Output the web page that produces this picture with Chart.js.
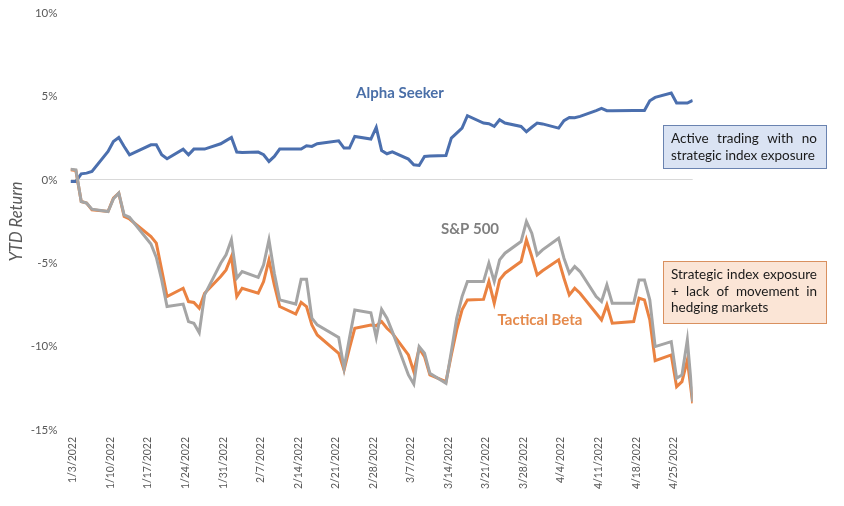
<!DOCTYPE html>
<html>
<head>
<meta charset="utf-8">
<script src="https://cdn.jsdelivr.net/npm/chart.js@4.4.1/dist/chart.umd.min.js"></script>
<style>
  html, body { margin: 0; padding: 0; background: #ffffff; }
  #wrap { width: 844px; height: 506px; position: relative; }
</style>
</head>
<body>
<div id="wrap"><canvas id="c"></canvas></div>
<script>
// ---------- DATA ----------
const tradingDates = [
  "1/3","1/4","1/5","1/6","1/7","1/10","1/11","1/12","1/13","1/14","1/18","1/19","1/20","1/21","1/24","1/25","1/26","1/27","1/28","1/31",
  "2/1","2/2","2/3","2/4","2/7","2/8","2/9","2/10","2/11","2/14","2/15","2/16","2/17","2/18","2/22","2/23","2/24","2/25","2/28",
  "3/1","3/2","3/3","3/4","3/7","3/8","3/9","3/10","3/11","3/14","3/15","3/16","3/17","3/18","3/21","3/22","3/23","3/24","3/25","3/28","3/29","3/30","3/31",
  "4/1","4/4","4/5","4/6","4/7","4/8","4/11","4/12","4/13","4/14","4/18","4/19","4/20","4/21","4/22","4/25","4/26","4/27","4/28","4/29"
];
const alphaSeeker = [
  -0.1,-0.1,0.36,0.4,0.5,1.7,2.3,2.54,2.0,1.5,2.1,2.1,1.5,1.26,1.84,1.5,1.84,1.84,1.84,2.16,
  2.35,2.54,1.66,1.63,1.66,1.5,1.1,1.4,1.84,1.84,1.84,2.04,2.0,2.16,2.34,1.9,1.9,2.6,2.44,
  3.14,1.76,1.56,1.68,1.24,0.9,0.86,1.4,1.42,1.46,2.5,2.8,3.1,3.84,3.4,3.36,3.2,3.6,3.4,3.2,2.88,3.15,3.4,
  3.35,3.1,3.55,3.74,3.72,3.8,4.15,4.28,4.14,4.14,4.15,4.15,4.16,4.74,4.94,5.2,4.6,4.6,4.6,4.76
];
const sp500 = [
  0.64,0.6,-1.3,-1.4,-1.76,-1.9,-1.14,-0.8,-2.1,-2.25,-3.85,-4.65,-6.0,-7.6,-7.45,-8.5,-8.6,-9.17,-6.9,-5.0,
  -4.5,-3.6,-5.9,-5.5,-5.85,-5.1,-3.6,-5.6,-7.2,-7.45,-5.96,-5.96,-8.3,-8.7,-9.45,-11.3,-9.5,-7.8,-7.97,
  -9.45,-7.77,-8.3,-9.1,-11.7,-12.25,-10.0,-10.4,-11.6,-12.2,-10.3,-8.3,-7.0,-6.1,-6.1,-5.0,-6.1,-4.8,-4.4,-3.7,-2.5,-3.2,-4.5,
  -4.2,-3.5,-4.7,-5.6,-5.2,-5.5,-7.0,-7.3,-6.3,-7.4,-7.4,-6.0,-6.0,-7.2,-10.0,-9.7,-11.9,-11.7,-9.6,-13.3
];
const tacticalBeta = [
  0.6,0.55,-1.3,-1.4,-1.8,-1.9,-1.1,-0.8,-2.2,-2.35,-3.4,-3.8,-5.4,-7.0,-6.5,-7.3,-7.35,-7.7,-6.8,-5.8,
  -5.4,-4.6,-7.0,-6.5,-6.8,-6.1,-4.8,-6.3,-7.6,-8.05,-7.35,-7.6,-8.7,-9.3,-10.4,-11.4,-10.1,-8.9,-8.7,
  -8.75,-8.5,-8.9,-9.2,-10.5,-11.5,-10.1,-10.6,-11.7,-12.1,-10.5,-9.0,-7.8,-7.2,-7.17,-6.1,-7.4,-6.0,-5.6,-4.9,-3.6,-4.6,-5.7,
  -5.45,-4.8,-5.9,-6.9,-6.5,-6.8,-8.0,-8.4,-7.5,-8.6,-8.5,-7.1,-7.2,-8.4,-10.85,-10.5,-12.4,-12.1,-10.8,-13.4
];
const tickLabels = ["1/3/2022","1/10/2022","1/17/2022","1/24/2022","1/31/2022","2/7/2022","2/14/2022","2/21/2022","2/28/2022","3/7/2022","3/14/2022","3/21/2022","3/28/2022","4/4/2022","4/11/2022","4/18/2022","4/25/2022"];
const yTicks = [-15, -10, -5, 0, 5, 10];

// ---------- helpers ----------
const DAY0 = Date.UTC(2022, 0, 3);
function dayOffset(md) {
  const [m, d] = md.split('/').map(Number);
  return Math.round((Date.UTC(2022, m - 1, d) - DAY0) / 864e5);
}
const lastDay = dayOffset(tradingDates[tradingDates.length - 1]);
function toPoints(vals) { return tradingDates.map((d, i) => ({ x: dayOffset(d), y: vals[i] })); }

const FONT = "Lato, 'Open Sans', sans-serif";

function justifyLines(ctx, lines, x, y, width, lh) {
  lines.forEach((line, li) => {
    const words = line.split(' ');
    const yy = y + li * lh;
    if (li === lines.length - 1 || words.length === 1) {
      ctx.fillText(line, x, yy);
      return;
    }
    const wsum = words.reduce((a, w) => a + ctx.measureText(w).width, 0);
    const gap = (width - wsum) / (words.length - 1);
    let cx = x;
    words.forEach(w => { ctx.fillText(w, cx, yy); cx += ctx.measureText(w).width + gap; });
  });
}

const notesPlugin = {
  id: 'notes',
  afterDatasetsDraw(chart) {
    const ctx = chart.ctx;
    ctx.save();
    ctx.textBaseline = 'middle';
    ctx.textAlign = 'center';
    ctx.font = "bold 15px " + FONT;
    ctx.fillStyle = '#4a6fa8';
    ctx.fillText('Alpha Seeker', 400, 93);
    ctx.fillStyle = '#7f7f7f';
    ctx.fillText('S&P 500', 470, 229);
    ctx.fillStyle = '#e58a4c';
    ctx.fillText('Tactical Beta', 540, 320);

    // box 1
    ctx.fillStyle = '#dae3f3';
    ctx.strokeStyle = '#6a83b0';
    ctx.lineWidth = 1;
    ctx.fillRect(663, 125, 163, 43);
    ctx.strokeRect(663.5, 125.5, 163, 43);
    // box 2
    ctx.fillStyle = '#fbe5d6';
    ctx.strokeStyle = '#d9905f';
    ctx.fillRect(663, 261, 163, 62);
    ctx.strokeRect(663.5, 261.5, 163, 62);

    ctx.fillStyle = '#1a1a1a';
    ctx.textAlign = 'left';
    ctx.textBaseline = 'alphabetic';
    ctx.font = "13.5px " + FONT;
    justifyLines(ctx, ['Active trading with no', 'strategic index exposure'], 671, 143, 146, 16.5);
    justifyLines(ctx, ['Strategic index exposure', '+ lack of movement in', 'hedging markets'], 671, 279, 146, 16.5);
    ctx.restore();
  }
};

const ds = (label, vals, color) => ({
  label, data: toPoints(vals), borderColor: color, backgroundColor: color,
  borderWidth: 3, pointRadius: 0, tension: 0, fill: false
});

new Chart(document.getElementById('c'), {
  type: 'line',
  data: {
    datasets: [
      ds('S&P 500', sp500, '#a5a5a5'),
      ds('Tactical Beta', tacticalBeta, '#ea8241'),
      ds('Alpha Seeker', alphaSeeker, '#4b6fae')
    ]
  },
  options: {
    responsive: true,
    maintainAspectRatio: false,
    animation: false,
    layout: { padding: { left: 0, right: 151.3, top: 13, bottom: 0 } },
    plugins: { legend: { display: false }, tooltip: { enabled: false } },
    scales: {
      x: {
        type: 'linear',
        min: 0,
        max: lastDay,
        grid: { display: false, drawTicks: false },
        border: { display: false },
        afterBuildTicks: s => { s.ticks = tickLabels.map((t, i) => ({ value: i * 7 })); },
        afterFit: s => { s.height = 76; s.paddingLeft = 0; s.paddingRight = 0; s.paddingTop = 0; s.paddingBottom = 0; },
        ticks: {
          autoSkip: false, maxRotation: 90, minRotation: 90, padding: 7, labelOffset: 2.5,
          color: '#595959', font: { family: FONT, size: 10.5 },
          callback: (v, i) => tickLabels[i]
        }
      },
      y: {
        min: -15, max: 10,
        afterBuildTicks: s => { s.ticks = yTicks.map(v => ({ value: v })); },
        afterFit: s => { s.width = 70.5; s.paddingTop = 0; s.paddingBottom = 0; s.paddingLeft = 0; s.paddingRight = 0; },
        grid: {
          drawTicks: false,
          color: c => (c.tick && c.tick.value === 0) ? '#d9d9d9' : 'rgba(0,0,0,0)',
          lineWidth: 1
        },
        border: { display: false },
        ticks: {
          padding: 13, color: '#595959', font: { family: FONT, size: 11.5 },
          callback: v => v + '%'
        },
        title: {
          display: true, text: 'YTD Return', color: '#595959',
          font: { family: FONT, size: 16.5, style: 'italic' },
          padding: { top: 7, bottom: 0 }
        }
      }
    }
  },
  plugins: [notesPlugin]
});
</script>
</body>
</html>
